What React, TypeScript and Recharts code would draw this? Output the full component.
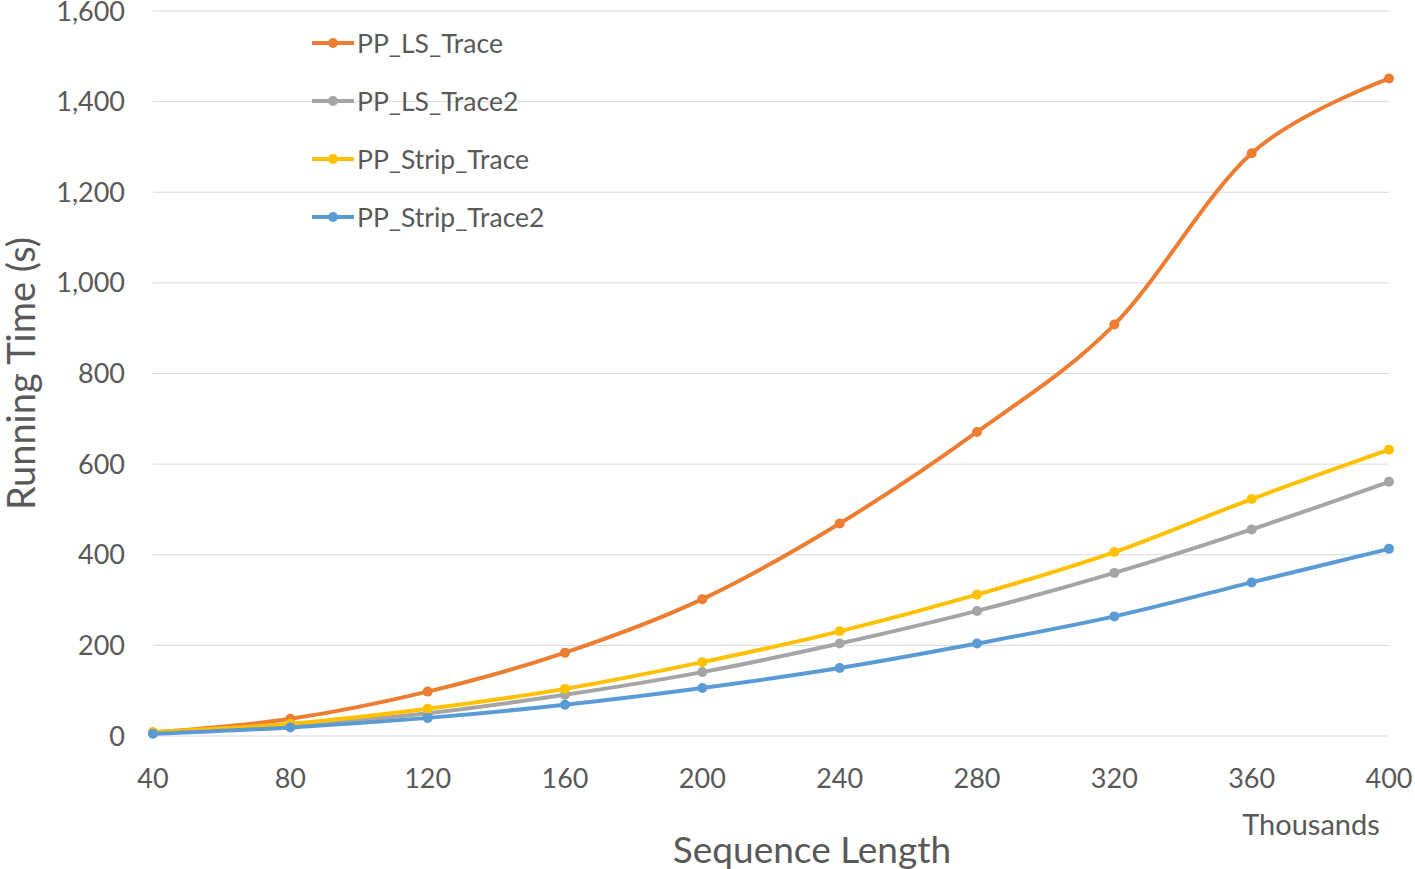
import React from 'react';
import { LineChart, Line, XAxis, YAxis, CartesianGrid, Legend, Label } from 'recharts';

const seqLength = [40, 80, 120, 160, 200, 240, 280, 320, 360, 400];
const ppLsTrace = [8, 38, 98, 184, 302, 469, 671, 908, 1286, 1451];
const ppLsTrace2 = [6, 22, 50, 91, 141, 204, 276, 360, 456, 561];
const ppStripTrace = [9, 27, 60, 104, 163, 231, 312, 406, 523, 632];
const ppStripTrace2 = [5, 19, 40, 69, 106, 150, 204, 264, 339, 413];
const yTicks = [0, 200, 400, 600, 800, 1000, 1200, 1400, 1600];
const xTicks = [40, 80, 120, 160, 200, 240, 280, 320, 360, 400];

const seriesList = [
  { key: 'PP_LS_Trace', values: ppLsTrace, color: '#ED7D31' },
  { key: 'PP_LS_Trace2', values: ppLsTrace2, color: '#A5A5A5' },
  { key: 'PP_Strip_Trace', values: ppStripTrace, color: '#FFC000' },
  { key: 'PP_Strip_Trace2', values: ppStripTrace2, color: '#5B9BD5' },
];

const data = seqLength.map((x, i) => {
  const row: Record<string, number> = { x };
  seriesList.forEach((s) => {
    row[s.key] = s.values[i];
  });
  return row;
});

const FONT = "Lato, 'Open Sans', sans-serif";
const TEXT_COLOR = '#595959';

// Catmull-Rom style smoothing (like Excel's smoothed line)
function smoothCurve(context: any) {
  const k = 1 / 6;
  const st: any = { _context: context };
  const seg = (x: number, y: number) => {
    st._context.bezierCurveTo(
      st._x1 + k * (st._x2 - st._x0),
      st._y1 + k * (st._y2 - st._y0),
      st._x2 + k * (st._x1 - x),
      st._y2 + k * (st._y1 - y),
      st._x2,
      st._y2
    );
  };
  return {
    areaStart() { st._line = 0; },
    areaEnd() { st._line = NaN; },
    lineStart() {
      st._x0 = st._x1 = st._x2 = st._y0 = st._y1 = st._y2 = NaN;
      st._point = 0;
    },
    lineEnd() {
      switch (st._point) {
        case 2: st._context.lineTo(st._x2, st._y2); break;
        case 3: seg(st._x1, st._y1); break;
      }
      if (st._line || (st._line !== 0 && st._point === 1)) st._context.closePath();
      st._line = 1 - st._line;
    },
    point(x: number, y: number) {
      x = +x; y = +y;
      switch (st._point) {
        case 0:
          st._point = 1;
          st._line ? st._context.lineTo(x, y) : st._context.moveTo(x, y);
          break;
        case 1:
          st._point = 2; st._x1 = x; st._y1 = y;
          break;
        case 2:
          st._point = 3;
          seg(x, y);
          break;
        default:
          seg(x, y);
          break;
      }
      st._x0 = st._x1; st._x1 = st._x2; st._x2 = x;
      st._y0 = st._y1; st._y1 = st._y2; st._y2 = y;
    },
  };
}

const LegendContent = () => (
  <div style={{ fontFamily: FONT }}>
    {seriesList.map((s) => (
      <div key={s.key} style={{ display: 'flex', alignItems: 'center', height: 58 }}>
        <svg width={45} height={12} style={{ display: 'block' }}>
          <line x1={0} y1={6} x2={42} y2={6} stroke={s.color} strokeWidth={4} />
          <circle cx={21} cy={6} r={5} fill={s.color} />
        </svg>
        <span style={{ fontSize: 26.5, color: TEXT_COLOR, lineHeight: 1 }}>{s.key}</span>
      </div>
    ))}
  </div>
);

const fmt = (v: number) => v.toLocaleString('en-US');

export default function App() {
  return (
    <div style={{ position: 'absolute', left: 0, top: 0, background: '#fff' }}>
      <LineChart
        width={1415}
        height={869}
        data={data}
        margin={{ top: 11, right: 26, bottom: 73, left: 0 }}
      >
        <CartesianGrid vertical={false} stroke="#D9D9D9" strokeWidth={1} />
        <XAxis
          dataKey="x"
          type="number"
          domain={[40, 400]}
          ticks={xTicks}
          height={60}
          axisLine={false}
          tickLine={false}
          tickSize={0}
          tickMargin={33}
          tick={{ fill: TEXT_COLOR, fontSize: 27, fontFamily: FONT }}
          interval={0}
        >
          <Label
            content={({ viewBox }: any) => (
              <g>
                <text
                  x={viewBox.x + viewBox.width / 2 + 41}
                  y={848}
                  textAnchor="middle"
                  dominantBaseline="central"
                  fill={TEXT_COLOR}
                  fontSize={37}
                  fontFamily={FONT}
                >
                  Sequence Length
                </text>
                <text
                  x={1311}
                  y={823}
                  textAnchor="middle"
                  dominantBaseline="central"
                  fill={TEXT_COLOR}
                  fontSize={29}
                  fontFamily={FONT}
                >
                  Thousands
                </text>
              </g>
            )}
          />
        </XAxis>
        <YAxis
          type="number"
          domain={[0, 1600]}
          ticks={yTicks}
          width={153}
          axisLine={false}
          tickLine={false}
          tickSize={0}
          tickMargin={28}
          tickFormatter={fmt}
          tick={{ fill: TEXT_COLOR, fontSize: 27, fontFamily: FONT }}
          interval={0}
        >
          <Label
            content={({ viewBox }: any) => (
              <text
                x={20}
                y={viewBox.y + viewBox.height / 2}
                transform={`rotate(-90, 20, ${viewBox.y + viewBox.height / 2})`}
                textAnchor="middle"
                dominantBaseline="central"
                fill={TEXT_COLOR}
                fontSize={38}
                fontFamily={FONT}
              >
                Running Time (s)
              </text>
            )}
          />
        </YAxis>
        <Legend
          layout="vertical"
          verticalAlign="middle"
          align="center"
          content={<LegendContent />}
          wrapperStyle={{ left: 312, top: 14, width: 320 }}
        />
        {seriesList.map((s) => (
          <Line
            key={s.key}
            dataKey={s.key}
            name={s.key}
            type={smoothCurve as any}
            stroke={s.color}
            strokeWidth={4}
            dot={{ r: 5, fill: s.color, stroke: s.color, strokeWidth: 0 }}
            activeDot={false}
            isAnimationActive={false}
          />
        ))}
      </LineChart>
    </div>
  );
}
